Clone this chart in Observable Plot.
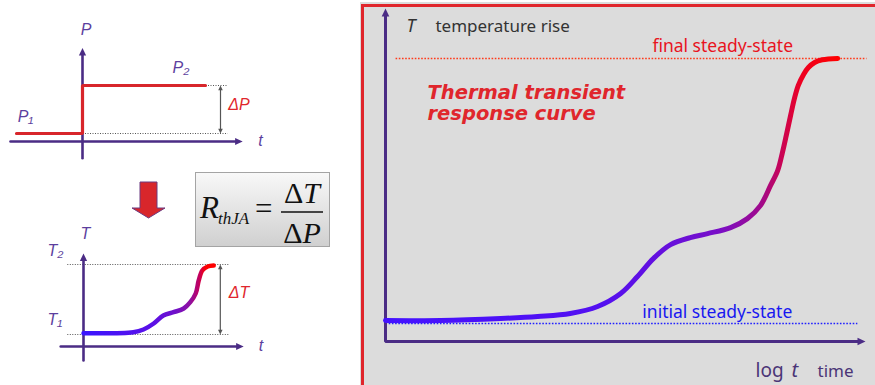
<!DOCTYPE html>
<html><head><meta charset="utf-8">
<script src="https://cdn.jsdelivr.net/npm/d3@7"></script>
<script src="https://cdn.jsdelivr.net/npm/@observablehq/plot@0.6"></script>
<style>
body{margin:0;background:#fff;}
#root{position:relative;width:875px;height:385px;overflow:hidden;font-family:"Liberation Sans",Arial,sans-serif;}
.abs{position:absolute;}
svg{overflow:visible;}
</style></head><body><div id="root"></div>
<script>
// ---------- data ----------
// main thermal transient response (x = log t units, y = relative temperature rise)
const mainLogT = [0, 1.15, 2.40, 3.17, 3.85, 4.42, 4.90, 5.25, 5.58, 5.94, 6.35, 6.71, 7.19, 7.54, 7.81, 8.02, 8.17, 8.27, 8.35, 8.44, 8.52, 8.60, 8.71, 8.81, 8.94, 9.10, 9.42];
const mainRise = [0.063, 0.063, 0.069, 0.075, 0.084, 0.105, 0.144, 0.195, 0.249, 0.291, 0.312, 0.324, 0.342, 0.369, 0.408, 0.468, 0.513, 0.568, 0.619, 0.679, 0.730, 0.769, 0.802, 0.823, 0.838, 0.846, 0.850];
const initialLevel = 0.054;
const finalLevel = 0.85;

// power step (left top)
const stepT = [-1.1, 0, 0, 2.05];
const stepP = [1, 1, 7, 7];
const P1 = 1, P2 = 7;

// small temperature response (left bottom)
const smallT = [0, 0.83, 1.0, 1.17, 1.33, 1.5, 1.67, 1.78, 1.87, 1.92, 1.98, 2.07, 2.17];
const smallTemp = [1.33, 1.43, 1.7, 2.3, 3.1, 3.43, 3.8, 4.43, 5.3, 6.6, 7.6, 8.0, 8.1];
const T1 = 1.2, T2 = 8.2;

// text labels
const mainLabels = ["T", "temperature rise", "final steady-state", "Thermal transient", "response curve", "initial steady-state", "log", "t", "time"];
const stepLabels = ["P", "P₂", "P₁", "ΔP", "t"];
const respLabels = ["T", "T₂", "T₁", "ΔT", "t"];

// ---------- helpers ----------
function tri(dir) {
  return {draw(ctx, size) {
    const r = Math.sqrt(size / Math.PI), L = r * 2, W = r * 0.95;
    ctx.moveTo(0, 0);
    if (dir === "up") { ctx.lineTo(-W, L); ctx.lineTo(W, L); }
    else if (dir === "down") { ctx.lineTo(-W, -L); ctx.lineTo(W, -L); }
    else { ctx.lineTo(-L, -W); ctx.lineTo(-L, W); }
    ctx.closePath();
  }};
}
const UP = tri("up"), DOWN = tri("down"), RIGHT = tri("right");
const AXIS = "#4b2c85", LBL = "#5c3f9e";
function place(el, left, top) { el.classList.add("abs"); el.style.left = left + "px"; el.style.top = top + "px"; document.getElementById("root").appendChild(el); return el; }
function addGradient(svg, id, stops) {
  const g = d3.select(svg).insert("defs", ":first-child").append("linearGradient").attr("id", id).attr("x1", 0).attr("x2", 1).attr("y1", 0).attr("y2", 0);
  stops.forEach(([o, c]) => g.append("stop").attr("offset", o).attr("stop-color", c));
}
const idx = a => a.map((_, i) => i);

// ---------- main panel background ----------
const bg = document.createElement("div");
bg.style.cssText = "width:515px;height:383px;background:#dcdcdc;";
place(bg, 360, 2);
const frame = document.createElement("div");
frame.style.cssText = "width:520px;height:390px;border-left:3px solid #e0262c;border-top:3px solid #e0262c;box-sizing:border-box;";
place(frame, 361, 4);

// ---------- main plot ----------
const txt = (text, x, y, o) => Plot.text([text], {x: () => x, y: () => y, text: d => d, textAnchor: "start", lineAnchor: "bottom", ...o});
const main = Plot.plot({
  width: 515, height: 385, marginLeft: 25, marginRight: 10, marginTop: 8, marginBottom: 44,
  x: {domain: [0, 10], axis: null}, y: {domain: [0, 1], axis: null},
  style: {background: "transparent", overflow: "visible"},
  marks: [
    Plot.link([finalLevel], {x1: 0.21, x2: 10.02, y1: d => d, y2: d => d, stroke: "#ff3a1a", strokeWidth: 1.6, strokeDasharray: "1.6 1.6"}),
    Plot.link([initialLevel], {x1: 0, x2: 9.83, y1: d => d, y2: d => d, stroke: "#2020ff", strokeWidth: 1.6, strokeDasharray: "1.6 1.6"}),
    Plot.line([[0, 0.985], [0, 0], [9.88, 0]], {x: d => d[0], y: d => d[1], stroke: AXIS, strokeWidth: 3, strokeLinejoin: "miter"}),
    Plot.dot([[0, 1]], {x: d => d[0], y: d => d[1], symbol: UP, r: 4, fill: AXIS, stroke: "none"}),
    Plot.dot([[10, 0]], {x: d => d[0], y: d => d[1], symbol: RIGHT, r: 4, fill: AXIS, stroke: "none"}),
    Plot.line(idx(mainLogT), {x: i => mainLogT[i], y: i => mainRise[i], stroke: "url(#gMain)", strokeWidth: 5, curve: "catmull-rom"}),
    txt(mainLabels[0], 0.44, 0.928, {fontSize: 18, fontStyle: "italic", fill: "#333"}),
    txt(mainLabels[1], 1.04, 0.928, {fontSize: 17, fill: "#333"}),
    txt(mainLabels[2], 5.56, 0.868, {fontSize: 17.5, fill: "#e8141e"}),
    txt(mainLabels[3], 0.875, 0.727, {fontSize: 19.5, fontStyle: "italic", fontWeight: "bold", fontFamily: "DejaVu Sans", fill: "#e0262c"}),
    txt(mainLabels[4], 0.875, 0.664, {fontSize: 19.5, fontStyle: "italic", fontWeight: "bold", fontFamily: "DejaVu Sans", fill: "#e0262c"}),
    txt(mainLabels[5], 5.35, 0.072, {fontSize: 17.5, fill: "#1818f0"}),
    txt(mainLabels[6], 7.71, -0.108, {fontSize: 19, fill: "#4b3577"}),
    txt(mainLabels[7], 8.46, -0.108, {fontSize: 20, fontStyle: "italic", fill: "#4b3577"}),
    txt(mainLabels[8], 9.0, -0.108, {fontSize: 17, fill: "#4b3577"})
  ]
});
addGradient(main, "gMain", [[0, "#4412ff"], [0.48, "#5410f0"], [0.65, "#6a10d8"], [0.74, "#7a0ec6"], [0.83, "#a00a8c"], [0.875, "#c80456"], [0.92, "#ee0020"], [1, "#ff0000"]]);
place(main, 360, 0);

// ---------- power step plot ----------
const small = {fontSize: 16, fontStyle: "italic", fill: LBL, fontFamily: "Liberation Sans"};
const stepPlot = Plot.plot({
  width: 300, height: 165, margin: 0,
  x: {domain: [-82 / 60, 218 / 60], axis: null}, y: {domain: [-3, 17.625], axis: null},
  style: {background: "transparent", overflow: "visible"},
  marks: [
    Plot.link([P2, P1], {x1: (d, i) => i ? 0 : 2.05, x2: 2.42, y1: d => d, y2: d => d, stroke: "#555", strokeWidth: 1, strokeDasharray: "1 1.5"}),
    Plot.line([[0, -2.1], [0, 11.0]], {x: d => d[0], y: d => d[1], stroke: AXIS, strokeWidth: 2.6}),
    Plot.line([[-1.2, 0], [2.55, 0]], {x: d => d[0], y: d => d[1], stroke: AXIS, strokeWidth: 2.6}),
    Plot.dot([[0, 11.7]], {x: d => d[0], y: d => d[1], symbol: UP, r: 3.8, fill: AXIS, stroke: "none"}),
    Plot.dot([[2.67, 0]], {x: d => d[0], y: d => d[1], symbol: RIGHT, r: 3.8, fill: AXIS, stroke: "none"}),
    Plot.line(idx(stepT), {x: i => stepT[i], y: i => stepP[i], stroke: "#d8262b", strokeWidth: 3.2, strokeLinejoin: "miter"}),
    Plot.link([[2.3, P1 + 0.3, P2 - 0.3]], {x1: d => d[0], x2: d => d[0], y1: d => d[1], y2: d => d[2], stroke: "#555", strokeWidth: 1.2}),
    Plot.dot([[2.3, P2]], {x: d => d[0], y: d => d[1], symbol: UP, r: 2.4, fill: "#555", stroke: "none"}),
    Plot.dot([[2.3, P1]], {x: d => d[0], y: d => d[1], symbol: DOWN, r: 2.4, fill: "#555", stroke: "none"}),
    txt(stepLabels[0], -0.03, 13.3, small),
    txt(stepLabels[1], 1.5, 8.6, small),
    txt(stepLabels[2], -1.08, 2.4, small),
    txt(stepLabels[3], 2.43, 3.9, {...small, fill: "#e0262c"}),
    txt(stepLabels[4], 2.93, -0.5, small)
  ]
});
place(stepPlot, 0, 0);

// ---------- temperature response plot ----------
const respPlot = Plot.plot({
  width: 300, height: 225, margin: 0,
  x: {domain: [-83 / 60, 217 / 60], axis: null}, y: {domain: [-3.9, 18.6], axis: null},
  style: {background: "transparent", overflow: "visible"},
  marks: [
    Plot.link([T2, T1], {x1: -0.27, x2: 2.42, y1: d => d, y2: d => d, stroke: "#555", strokeWidth: 1, strokeDasharray: "1 1.5"}),
    Plot.line([[0, -1.4], [0, 8.6]], {x: d => d[0], y: d => d[1], stroke: AXIS, strokeWidth: 2.6}),
    Plot.line([[-0.38, 0], [2.55, 0]], {x: d => d[0], y: d => d[1], stroke: AXIS, strokeWidth: 2.6}),
    Plot.dot([[0, 9.3]], {x: d => d[0], y: d => d[1], symbol: UP, r: 3.8, fill: AXIS, stroke: "none"}),
    Plot.dot([[2.67, 0]], {x: d => d[0], y: d => d[1], symbol: RIGHT, r: 3.8, fill: AXIS, stroke: "none"}),
    Plot.line(idx(smallT), {x: i => smallT[i], y: i => smallTemp[i], stroke: "url(#gSmall)", strokeWidth: 4.5, curve: "catmull-rom"}),
    Plot.link([[2.28, T1 + 0.4, T2 - 0.4]], {x1: d => d[0], x2: d => d[0], y1: d => d[1], y2: d => d[2], stroke: "#555", strokeWidth: 1.2}),
    Plot.dot([[2.28, T2]], {x: d => d[0], y: d => d[1], symbol: UP, r: 2.4, fill: "#555", stroke: "none"}),
    Plot.dot([[2.28, T1]], {x: d => d[0], y: d => d[1], symbol: DOWN, r: 2.4, fill: "#555", stroke: "none"}),
    txt(respLabels[0], -0.05, 10.8, small),
    txt(respLabels[1], -0.6, 9.1, small),
    txt(respLabels[2], -0.6, 2.2, small),
    txt(respLabels[3], 2.42, 4.9, {...small, fill: "#e0262c"}),
    txt(respLabels[4], 2.92, -0.4, small)
  ]
});
addGradient(respPlot, "gSmall", [[0, "#3a14ff"], [0.52, "#5a10e8"], [0.71, "#7010c8"], [0.82, "#9010a0"], [0.885, "#c00060"], [0.94, "#ff0000"], [1, "#ff0000"]]);
place(respPlot, 0, 160);

// ---------- down arrow ----------
const ns = "http://www.w3.org/2000/svg";
const arr = document.createElementNS(ns, "svg");
arr.setAttribute("width", 40); arr.setAttribute("height", 40);
arr.innerHTML = '<polygon points="10,2 27,2 27,28 35,28 18.5,38 2,28 10,28" fill="#d8262b" stroke="#6b3a80" stroke-width="1"/>';
place(arr, 130, 180);

// ---------- formula box ----------
const box = document.createElement("div");
box.style.cssText = "width:133px;height:73px;border:1px solid #a4a4a4;background:linear-gradient(#f8f8f8,#d0d0d0);box-sizing:content-box;";
box.innerHTML = '<svg width="133" height="73" style="font-family:\'Liberation Serif\',\'Times New Roman\',serif;fill:#111">' +
  '<text x="4" y="45" font-size="31" font-style="italic">R</text>' +
  '<text x="22" y="51" font-size="17" font-style="italic">thJA</text>' +
  '<text x="59" y="46" font-size="31">=</text>' +
  '<line x1="85" x2="127" y1="39" y2="39" stroke="#111" stroke-width="1.3"/>' +
  '<text x="106" y="30" font-size="30" text-anchor="middle">Δ<tspan font-style="italic">T</tspan></text>' +
  '<text x="106" y="70" font-size="30" text-anchor="middle">Δ<tspan font-style="italic">P</tspan></text>' +
  '</svg>';
place(box, 195, 172);
</script></body></html>
